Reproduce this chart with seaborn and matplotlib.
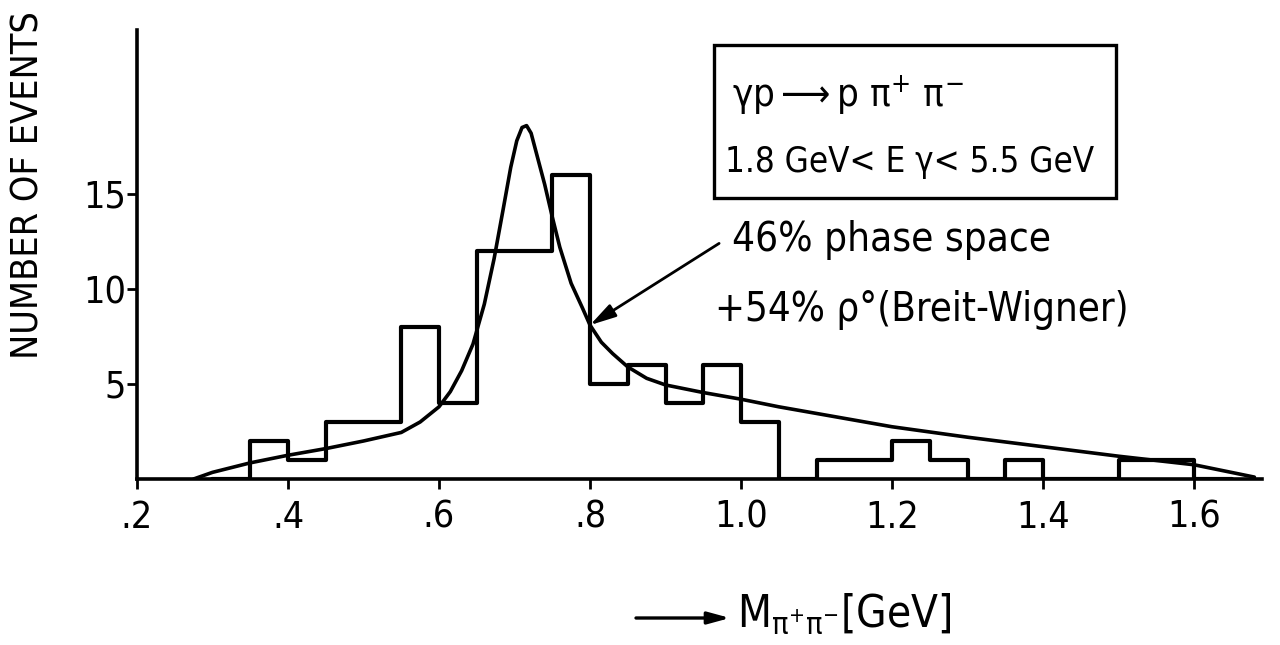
import numpy as np
import pandas as pd
import matplotlib
matplotlib.use("Agg")
import matplotlib.pyplot as plt
import seaborn as sns
from matplotlib import font_manager as fm
from matplotlib.patches import Rectangle

# ---------------- data ----------------
bin_edges = [0.30, 0.35, 0.40, 0.45, 0.50, 0.55, 0.60, 0.65, 0.70, 0.75,
             0.80, 0.85, 0.90, 0.95, 1.00, 1.05, 1.10, 1.15, 1.20, 1.25,
             1.30, 1.35, 1.40, 1.45, 1.50, 1.55, 1.60, 1.65]
event_counts = [0, 2, 1, 3, 3, 8, 4, 12, 12, 16,
                5, 6, 4, 6, 3, 0, 1, 1, 2, 1,
                0, 1, 0, 0, 1, 1, 0]

curve_mass = [0.275, 0.30, 0.35, 0.40, 0.45, 0.50, 0.55, 0.575, 0.60, 0.615,
              0.63, 0.645, 0.66, 0.673, 0.685, 0.695, 0.703, 0.71, 0.716,
              0.722, 0.73, 0.74, 0.75, 0.76, 0.775, 0.79, 0.80, 0.815,
              0.83, 0.85, 0.875, 0.90, 0.95, 1.00, 1.05, 1.10, 1.20,
              1.30, 1.40, 1.50, 1.60, 1.68]
curve_events = [0.0, 0.35, 0.85, 1.25, 1.6, 2.0, 2.45, 3.0, 3.8, 4.6,
                5.7, 7.1, 9.2, 11.6, 14.2, 16.4, 17.8, 18.5, 18.6,
                18.2, 17.0, 15.5, 13.8, 12.2, 10.3, 9.0, 8.1, 7.2,
                6.6, 5.9, 5.3, 4.95, 4.55, 4.2, 3.8, 3.45, 2.75,
                2.2, 1.7, 1.2, 0.75, 0.1]

x_ticks = [0.2, 0.4, 0.6, 0.8, 1.0, 1.2, 1.4, 1.6]
x_tick_labels = [".2", ".4", ".6", ".8", "1.0", "1.2", "1.4", "1.6"]
y_ticks = [5, 10, 15]
y_tick_labels = ["5", "10", "15"]

# ---------------- style ----------------
sns.set_theme(style="white")
names = {f.name for f in fm.fontManager.ttflist}
cond = [f for f in fm.fontManager.ttflist
        if f.name == "DejaVu Sans" and str(f.stretch).lower() in ("condensed", "semi-condensed")]
if cond:
    FAM = ["DejaVu Sans"]
    STRETCH = "condensed"
elif "Liberation Sans Narrow" in names:
    FAM = ["Liberation Sans Narrow", "DejaVu Sans"]
    STRETCH = "normal"
else:
    FAM = ["DejaVu Sans"]
    STRETCH = "normal"
plt.rcParams["font.family"] = FAM
plt.rcParams["font.stretch"] = STRETCH
plt.rcParams["mathtext.fontset"] = "dejavusans"

W, H = 1280, 645
fig = plt.figure(figsize=(W / 100, H / 100), dpi=100)
fig.patch.set_facecolor("white")

ax_l, ax_r, ax_b, ax_t = 137, 1262, 479, 30
ax = fig.add_axes([ax_l / W, (H - ax_b) / H, (ax_r - ax_l) / W, (ax_b - ax_t) / H])
ax.set_facecolor("white")

centers = [(a + b) / 2 for a, b in zip(bin_edges[:-1], bin_edges[1:])]
df = pd.DataFrame({"mass": centers, "n": event_counts})

sns.histplot(data=df, x="mass", weights="n", bins=list(bin_edges), element="step",
             fill=False, color="black", linewidth=3.0, ax=ax)
sns.lineplot(x=curve_mass, y=curve_events, sort=False, estimator=None,
             color="black", linewidth=2.6, ax=ax)

ax.set_xlim(0.2, 0.2 + (ax_r - ax_l) / 755)
ax.set_ylim(0, (ax_b - ax_t) / 19.0)
ax.set_xticks(x_ticks)
ax.set_xticklabels(x_tick_labels)
ax.set_yticks(y_ticks)
ax.set_yticklabels(y_tick_labels)
ax.tick_params(axis="both", direction="out", length=7, width=2, color="black",
               labelsize=27, labelcolor="black", bottom=True, left=True)
ax.tick_params(axis="x", pad=8)
ax.tick_params(axis="y", pad=1)
for s in ["top", "right"]:
    ax.spines[s].set_visible(False)
for s in ["left", "bottom"]:
    ax.spines[s].set_linewidth(2.6)
    ax.spines[s].set_color("black")
ax.set_xlabel("")
ax.set_ylabel("")

def fx(px):
    return px / W

def fy(py):
    return 1 - py / H

# y axis label
fig.text(fx(29), fy(185), "NUMBER OF EVENTS", rotation=90, ha="center", va="center",
         fontsize=27, color="black")

# box with reaction
fig.add_artist(Rectangle((fx(714), fy(198)), fx(1116) - fx(714), fy(45) - fy(198),
                         transform=fig.transFigure, fill=False, edgecolor="black",
                         linewidth=2.4))
fig.text(fx(732), fy(95), r"γp$\longrightarrow$p π$^{+}$ π$^{-}$", ha="left", va="center",
         fontsize=27.5, color="black")
fig.text(fx(725), fy(162), "1.8 GeV< E γ< 5.5 GeV", ha="left", va="center",
         fontsize=25, color="black")

# fit description
fig.text(fx(732), fy(240), "46% phase space", ha="left", va="center",
         fontsize=29, color="black")
fig.text(fx(715), fy(310), "+54% ρ°(Breit-Wigner)", ha="left", va="center",
         fontsize=28.8, color="black")

ax.annotate("", xy=(0.80, 8.1), xytext=(0.971, 12.4),
            arrowprops=dict(arrowstyle="-|>,head_length=1.3,head_width=0.35",
                            color="black", lw=2.0, shrinkA=0, shrinkB=0))

# x axis label with arrow
ax.annotate("", xy=(fx(730), fy(618)), xytext=(fx(636), fy(618)),
            xycoords="figure fraction", textcoords="figure fraction",
            annotation_clip=False,
            arrowprops=dict(arrowstyle="-|>,head_length=1.1,head_width=0.3",
                            color="black", lw=2.4, shrinkA=0, shrinkB=0))
fig.text(fx(737), fy(614), r"M$_{\mathrm{π}^{+}\mathrm{π}^{-}}$[GeV]", ha="left", va="center",
         fontsize=31.5, color="black")

fig.savefig("out.png", dpi=100, facecolor="white")
